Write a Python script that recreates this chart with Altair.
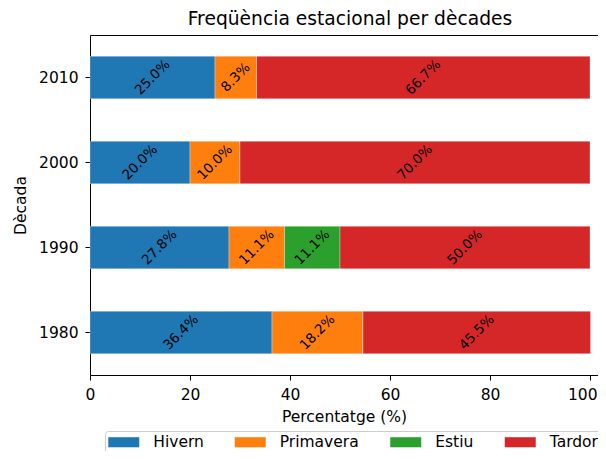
import altair as alt
import pandas as pd

decades = ["1980", "1990", "2000", "2010"]
seasons = ["Hivern", "Primavera", "Estiu", "Tardor"]
hivern = [36.4, 27.8, 20.0, 25.0]
primavera = [18.2, 11.1, 10.0, 8.3]
estiu = [0.0, 11.1, 0.0, 0.0]
tardor = [45.5, 50.0, 70.0, 66.7]
colors = ["#1f77b4", "#ff7f0e", "#2ca02c", "#d62728"]
x_ticks = [0, 20, 40, 60, 80, 100]

rows = []
for i, d in enumerate(decades):
    for j, (s, vals) in enumerate(zip(seasons, [hivern, primavera, estiu, tardor])):
        rows.append({"decade": d, "season": s, "order": j, "value": vals[i],
                     "label": f"{vals[i]:.1f}%"})
df = pd.DataFrame(rows)

FONT = "DejaVu Sans"
FS = 15.5

base = alt.Chart(df).transform_stack(
    stack="value", groupby=["decade"], sort=[alt.SortField("order")], as_=["x0", "x1"]
).transform_calculate(mid="(datum.x0 + datum.x1) / 2")

yenc = alt.Y("decade:N", sort=list(reversed(decades)),
             scale=alt.Scale(paddingInner=0.5, paddingOuter=0.25),
             axis=alt.Axis(title="Dècada", labelFontSize=FS, titleFontSize=FS,
                           titleFontWeight="normal", tickSize=5, labelPadding=7,
                           titlePadding=10, domainColor="black", tickColor="black",
                           labelColor="black", titleColor="black", labelFont=FONT,
                           titleFont=FONT))

xscale = alt.Scale(domain=[0, 101.6], nice=False)

bars = base.mark_bar(stroke="white", strokeWidth=0.6, strokeOpacity=0.5).encode(
    y=yenc,
    x=alt.X("x0:Q", scale=xscale,
            axis=alt.Axis(title="Percentatge (%)", values=x_ticks, labelFontSize=FS,
                          titleFontSize=FS, titleFontWeight="normal", tickSize=5,
                          labelPadding=7, titlePadding=7, grid=False,
                          domainColor="black", tickColor="black", labelColor="black",
                          titleColor="black", labelFont=FONT, titleFont=FONT,
                          labelFlush=False,
                          labelAlign={"expr": "datum.value == 100 ? 'right' : 'center'"},
                          labelOffset={"expr": "datum.value == 100 ? 7 : 0"})),
    x2="x1:Q",
    color=alt.Color("season:N", scale=alt.Scale(domain=seasons, range=colors),
                    legend=alt.Legend(title=None, orient="none", legendX=15, legendY=396,
                                      direction="horizontal",
                                      symbolType="M-2,-0.65L2,-0.65L2,0.65L-2,0.65Z",
                                      symbolSize=240, symbolStrokeWidth=0,
                                      symbolOffset=7.75, labelOffset=21.5,
                                      labelFontSize=FS, labelFont=FONT,
                                      labelColor="black", columnPadding=30.5,
                                      padding=3, strokeColor="#cccccc",
                                      fillColor="white", cornerRadius=3)),
)

text = base.transform_filter("datum.value > 0").mark_text(
    angle=315, fontSize=13.5, color="black", font=FONT, align="center", baseline="middle"
).encode(
    y=alt.Y("decade:N", sort=list(reversed(decades))),
    x=alt.X("mid:Q", scale=xscale,
            axis=alt.Axis(orient="top", labels=False, ticks=False, title=None,
                          grid=False, domainColor="black")),
    text="label:N",
)

chart = alt.layer(bars, text).resolve_axis(x="independent").properties(
    width=508, height=340,
    title=alt.Title("Freqüència estacional per dècades", fontSize=18.7,
                    fontWeight="normal", font=FONT, color="black", offset=6, dx=6),
    autosize=alt.AutoSizeParams(type="none"),
    padding={"left": 82, "top": 27, "right": 0, "bottom": 76},
).configure_view(stroke=None)

chart.save("out.html", embed_options={"renderer": "svg", "actions": False})
